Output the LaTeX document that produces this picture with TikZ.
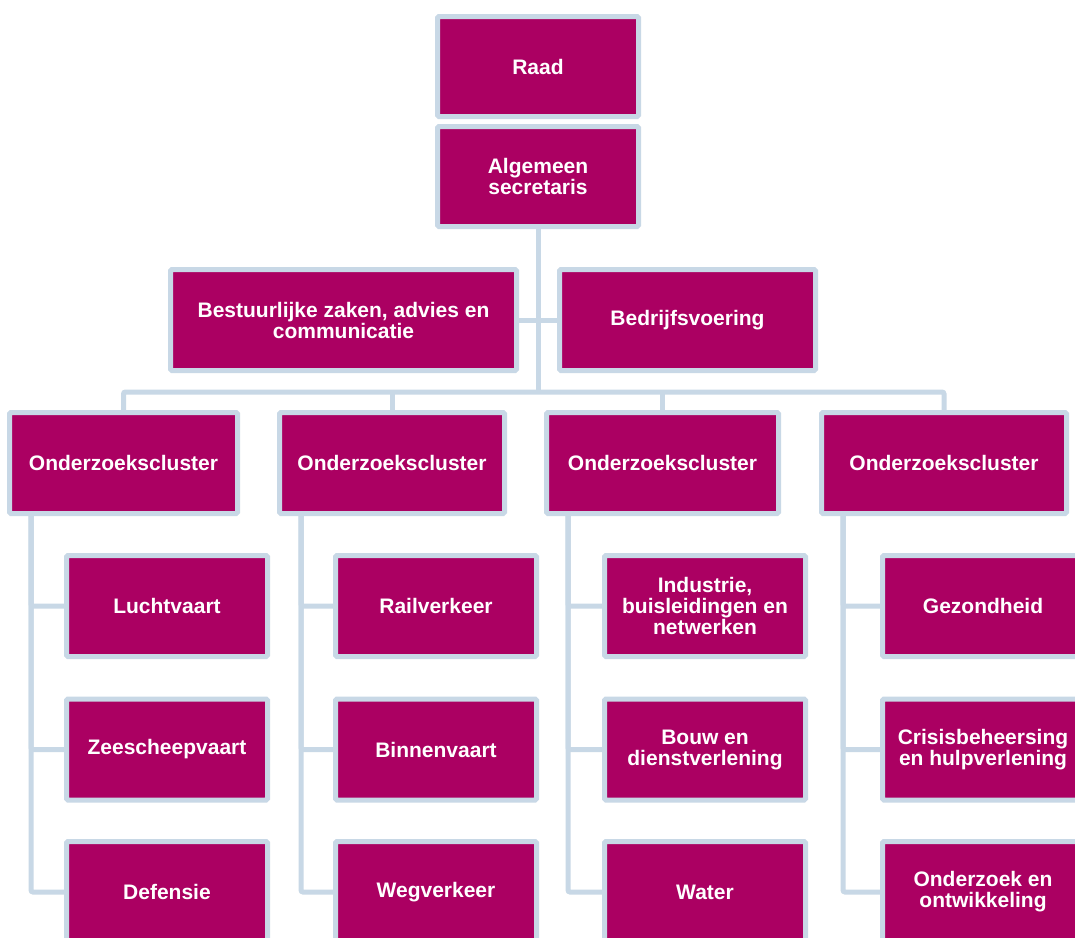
\documentclass[tikz,border=0pt]{standalone}
\usepackage{fontspec}
\setmainfont{Liberation Sans}
\usetikzlibrary{backgrounds}
\definecolor{boxfill}{HTML}{AB0062}
\definecolor{boxline}{HTML}{C8D8E6}
\begin{document}
\begin{tikzpicture}[x=1pt,y=-1pt,
  orgbox/.style={draw=boxline, line width=5pt, fill=boxfill, rounded corners=1.5pt,
    text=white, align=center, inner sep=0pt,
    font=\fontsize{21}{21}\selectfont\bfseries},
  conn/.style={draw=boxline, line width=5pt, rounded corners=2pt},
  childbox/.style={orgbox, minimum width=201pt, minimum height=101pt}]
\useasboundingbox (0,0) rectangle (1075,937);
\clip (0,0) rectangle (1075,937);
% top
\node[orgbox, minimum width=201pt, minimum height=100pt] (raad) at (538,66.5) {Raad};
\node[orgbox, minimum width=201pt, minimum height=100pt] (alg) at (538,176.5) {Algemeen\\secretaris};
\node[orgbox, minimum width=346pt, minimum height=101pt] (best) at (343.5,320) {Bestuurlijke zaken, advies en\\communicatie};
\node[orgbox, minimum width=256pt, minimum height=101pt] (bedr) at (687.5,320) {Bedrijfsvoering};
% clusters
\node[orgbox, minimum width=228pt, minimum height=101pt] (c1) at (123.5,463) {Onderzoekscluster};
\node[orgbox, minimum width=225pt, minimum height=101pt] (c2) at (392,463) {Onderzoekscluster};
\node[orgbox, minimum width=232pt, minimum height=101pt] (c3) at (662.5,463) {Onderzoekscluster};
\node[orgbox, minimum width=245pt, minimum height=101pt] (c4) at (944,463) {Onderzoekscluster};
% children
\node[childbox] (a1) at (167,606) {Luchtvaart};
\node[childbox] (a2) at (167,749.5) {Zeescheepvaart};
\node[childbox] (a3) at (167,892) {Defensie};
\node[childbox] (b1) at (436,606) {Railverkeer};
\node[childbox] (b2) at (436,749.5) {Binnenvaart};
\node[childbox] (b3) at (436,892) {Wegverkeer};
\node[childbox] (d1) at (705,606) {Industrie,\\buisleidingen en\\netwerken};
\node[childbox] (d2) at (705,749.5) {Bouw en\\dienstverlening};
\node[childbox] (d3) at (705,892) {Water};
\node[childbox] (e1) at (983,606) {Gezondheid};
\node[childbox] (e2) at (983,749.5) {Crisisbeheersing\\en hulpverlening};
\node[childbox] (e3) at (983,892) {Onderzoek en\\ontwikkeling};
% connectors (behind)
\begin{scope}[on background layer]
\fill[white] (0,0) rectangle (1075,937);
\coordinate (bus) at (538,392);
\draw[conn] (alg.south) -- (alg.south |- bus);
\draw[conn] (best.east) -- (bedr.west);
\draw[conn] (c1.north) -- (c1.north |- bus) -- (c4.north |- bus) -- (c4.north);
\draw[conn] (c2.north) -- (c2.north |- bus);
\draw[conn] (c3.north) -- (c3.north |- bus);
\foreach \c/\k in {c1/a, c2/b, c3/d, c4/e}{
  \draw[conn] ([xshift=24pt]\c.south west) |- (\k1.west);
  \draw[conn] ([xshift=24pt]\c.south west) |- (\k2.west);
  \draw[conn] ([xshift=24pt]\c.south west) |- (\k3.west);
}
\end{scope}
\end{tikzpicture}
\end{document}
